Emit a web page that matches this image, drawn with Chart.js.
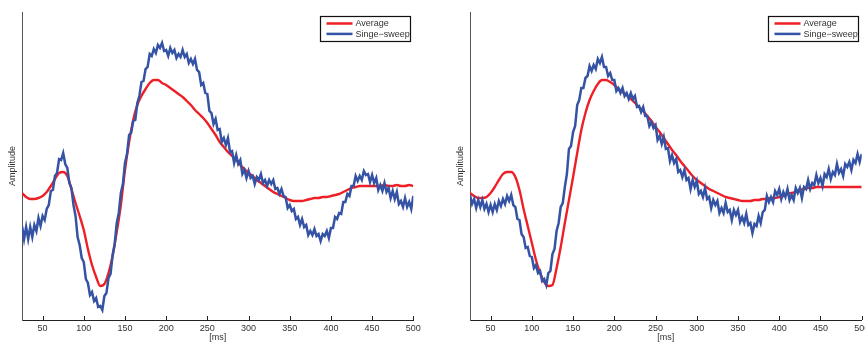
<!DOCTYPE html>
<html>
<head>
<meta charset="utf-8">
<script src="https://cdn.jsdelivr.net/npm/chart.js@4.4.1/dist/chart.umd.min.js"></script>
<style>
  body { margin: 0; background: #fff; width: 865px; height: 342px; overflow: hidden; position: relative; }
  canvas { position: absolute; top: 0; }
  #left { left: 0; }
  #right { left: 448px; }
</style>
</head>
<body>
<canvas id="left" width="432" height="342"></canvas>
<canvas id="right" width="417" height="342"></canvas>
<script>
// tick labels of the time axis [ms]
const timeTicks = [50, 100, 150, 200, 250, 300, 350, 400, 450, 500];
const seriesNames = ['Average', 'Singe\u2212sweep'];

// sampling grids: average every 5 ms, single sweep every 2.5 ms (25..500)
const avgTimes = Array.from({ length: 96 }, (_, i) => 25 + i * 5);
const sweepTimes = Array.from({ length: 191 }, (_, i) => 25 + i * 2.5);

// left panel - averaged response
const leftAverage = [
    127, 123, 121, 121, 122, 124, 128, 134, 141, 147,
    148, 144, 131, 117, 104, 90, 71, 55, 43, 34,
    36, 47, 64, 88, 115, 150, 178, 200, 215, 224,
    231, 237, 240, 240, 237, 235, 232, 229, 226, 223,
    219, 215, 210, 206, 202, 197, 191, 185, 178, 173,
    168, 164, 160, 155, 151, 147, 144, 140, 137, 134,
    131, 128, 126, 124, 122, 120, 119, 119, 119, 120,
    121, 122, 122, 123, 123, 124, 125, 126, 128, 130,
    132, 133, 134, 134, 134, 134, 134, 134, 135, 134,
    134, 135, 134, 134, 135, 134
];

// left panel - single sweep
const leftSweep = [
    94, 81, 93, 81, 93, 83, 95, 89, 102, 94,
    104, 100, 111, 115, 129, 130, 144, 147, 161, 160,
    167, 156, 152, 137, 132, 115, 104, 83, 75, 62,
    58, 41, 37, 25, 28, 19, 22, 13, 14, 10,
    24, 27, 42, 46, 65, 76, 97, 107, 127, 136,
    157, 166, 185, 187, 199, 200, 217, 224, 238, 239,
    251, 253, 266, 264, 271, 267, 275, 272, 277, 269,
    270, 264, 272, 267, 270, 262, 266, 263, 270, 263,
    266, 257, 261, 256, 261, 250, 248, 235, 237, 227,
    226, 209, 207, 196, 201, 190, 191, 178, 182, 175,
    182, 168, 169, 157, 165, 156, 160, 146, 150, 142,
    149, 142, 144, 136, 143, 140, 146, 137, 140, 134,
    140, 136, 140, 131, 132, 126, 131, 124, 123, 112,
    115, 109, 111, 101, 103, 95, 101, 93, 95, 85,
    89, 85, 91, 84, 86, 79, 86, 84, 89, 82,
    92, 92, 103, 101, 107, 106, 118, 118, 126, 124,
    134, 134, 144, 139, 144, 140, 149, 145, 146, 138,
    145, 137, 142, 130, 135, 129, 137, 128, 132, 122,
    129, 121, 128, 116, 119, 113, 122, 113, 118, 111,
    124
];

// right panel - averaged response
const rightAverage = [
    127, 124, 122, 122, 123, 127, 133, 140, 146, 148,
    148, 143, 130, 111, 94, 77, 60, 47, 38, 34,
    35, 52, 73, 97, 120, 143, 167, 190, 207, 220,
    229, 236, 240, 240, 238, 235, 231, 228, 225, 221,
    217, 213, 209, 204, 199, 193, 188, 182, 176, 170,
    165, 159, 154, 149, 144, 140, 137, 134, 131, 129,
    127, 125, 123, 122, 121, 120, 119, 119, 119, 120,
    120, 121, 121, 122, 122, 123, 124, 126, 127, 128,
    130, 131, 132, 132, 133, 133, 133, 133, 133, 133,
    133, 133, 133, 133, 133, 133
];

// right panel - single sweep
const rightSweep = [
    125, 116, 121, 112, 120, 113, 120, 111, 116, 108,
    115, 108, 116, 110, 119, 114, 121, 116, 124, 119,
    125, 115, 113, 101, 100, 86, 83, 72, 73, 64,
    63, 52, 55, 47, 49, 39, 41, 35, 47, 49,
    66, 71, 89, 97, 113, 117, 133, 146, 171, 174,
    188, 194, 215, 220, 232, 232, 242, 244, 254, 249,
    255, 251, 261, 257, 263, 253, 253, 244, 247, 240,
    240, 229, 232, 227, 232, 224, 227, 221, 227, 221,
    224, 213, 214, 208, 213, 204, 204, 194, 198, 192,
    195, 180, 184, 176, 183, 171, 172, 159, 165, 157,
    161, 148, 150, 143, 150, 140, 142, 131, 140, 133,
    139, 126, 129, 123, 132, 121, 123, 112, 120, 115,
    119, 107, 112, 107, 117, 108, 110, 100, 110, 105,
    110, 98, 103, 97, 106, 95, 97, 87, 96, 94,
    104, 97, 108, 110, 124, 118, 123, 118, 129, 125,
    131, 121, 128, 123, 131, 120, 125, 120, 132, 127,
    132, 122, 133, 131, 140, 131, 137, 135, 145, 137,
    142, 134, 146, 143, 151, 141, 148, 145, 156, 147,
    151, 144, 156, 153, 158, 150, 160, 157, 166, 158,
    166
];

const RED = '#ee1f26';
const BLUE = '#3453a4';
const FONT = "'Liberation Sans', Arial, sans-serif";

Chart.defaults.font.family = FONT;
Chart.defaults.color = '#333';

const pair = (xs, ys) => ys.map((y, i) => ({ x: xs[i], y: y }));

// ticks pointing into the plot, matlab style
const innerTicks = {
    id: 'innerTicks',
    afterDatasetsDraw(chart) {
        const sx = chart.scales.x;
        const area = chart.chartArea;
        const ctx = chart.ctx;
        ctx.save();
        ctx.strokeStyle = '#222';
        ctx.lineWidth = 1;
        sx.ticks.forEach(t => {
            const px = Math.round(sx.getPixelForValue(t.value)) + 0.5;
            ctx.beginPath();
            ctx.moveTo(px, area.bottom);
            ctx.lineTo(px, area.bottom - 4);
            ctx.stroke();
        });
        ctx.restore();
    }
};

// boxed legend in the top right corner
const boxLegend = {
    id: 'boxLegend',
    afterDraw(chart) {
        const ctx = chart.ctx;
        const area = chart.chartArea;
        const w = 90, h = 25;
        const x0 = Math.round(area.right - 3.5 - w) + 0.5;
        const y0 = Math.round(area.top + 3.5) + 0.5;
        ctx.save();
        ctx.fillStyle = '#fff';
        ctx.fillRect(x0, y0, w, h);
        ctx.strokeStyle = '#111';
        ctx.lineWidth = 1.2;
        ctx.strokeRect(x0, y0, w, h);
        ctx.font = '9px ' + FONT;
        ctx.textBaseline = 'middle';
        ctx.fillStyle = '#333';
        const entries = [chart.data.datasets[1], chart.data.datasets[0]];
        entries.forEach((ds, i) => {
            const cy = y0 + 7 + i * 10.4;
            ctx.strokeStyle = ds.borderColor;
            ctx.lineWidth = 2.5;
            ctx.beginPath();
            ctx.moveTo(x0 + 6, cy);
            ctx.lineTo(x0 + 32, cy);
            ctx.stroke();
            ctx.fillText(ds.label, x0 + 35, cy + 0.5);
        });
        ctx.restore();
    }
};

function makePanel(id, avg, sweep, padRight) {
    return new Chart(document.getElementById(id), {
        type: 'line',
        data: {
            datasets: [
                {
                    label: seriesNames[1],
                    data: pair(sweepTimes, sweep),
                    borderColor: BLUE,
                    borderWidth: 2.5,
                    pointRadius: 0,
                    tension: 0
                },
                {
                    label: seriesNames[0],
                    data: pair(avgTimes, avg),
                    borderColor: RED,
                    borderWidth: 2.4,
                    pointRadius: 0,
                    cubicInterpolationMode: 'monotone'
                }
            ]
        },
        options: {
            responsive: false,
            animation: false,
            layout: { padding: { top: 12, right: padRight, left: 0, bottom: 0 } },
            plugins: {
                legend: { display: false },
                tooltip: { enabled: false }
            },
            scales: {
                x: {
                    type: 'linear',
                    min: 25,
                    max: 500,
                    grid: { display: false, drawTicks: false },
                    border: { display: true, color: '#222', width: 1 },
                    afterBuildTicks: (scale) => { scale.ticks = timeTicks.map(v => ({ value: v })); },
                    afterFit: (scale) => { scale.height = 22; scale.paddingLeft = 0; scale.paddingRight = 0; },
                    ticks: { padding: 3, maxRotation: 0, autoSkip: false, font: { size: 9 }, color: '#333' },
                    title: { display: true, text: '[ms]', font: { size: 9, lineHeight: 1 }, padding: 0, color: '#333' }
                },
                y: {
                    min: 0,
                    max: 308,
                    grid: { display: false, drawTicks: false },
                    border: { display: true, color: '#555', width: 1 },
                    ticks: { display: false },
                    afterFit: (scale) => { scale.width = 22; scale.paddingTop = 0; scale.paddingBottom = 0; },
                    title: { display: true, text: 'Amplitude', font: { size: 9, lineHeight: 1 }, padding: { top: 8.5, bottom: 0 }, color: '#333' }
                }
            }
        },
        plugins: [innerTicks, boxLegend]
    });
}

makePanel('left', leftAverage, leftSweep, 18.7);
makePanel('right', rightAverage, rightSweep, 3.3);
</script>
</body>
</html>
